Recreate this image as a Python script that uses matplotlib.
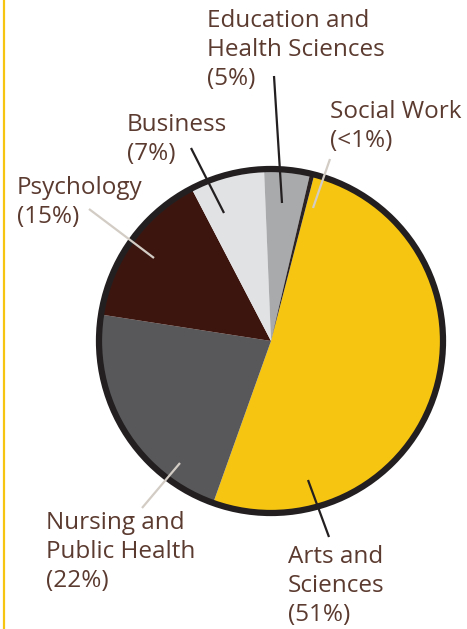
import matplotlib
matplotlib.use("Agg")
import matplotlib.pyplot as plt
from matplotlib.patches import Circle

# shares by school (%)
schools = ["Arts and\nSciences", "Nursing and\nPublic Health", "Psychology",
           "Business", "Education and\nHealth Sciences", "Social Work"]
pct_labels = ["(51%)", "(22%)", "(15%)", "(7%)", "(5%)", "(<1%)"]
shares = [51.4, 22.0, 14.9, 7.0, 4.3, 0.4]
colors = ["#f6c512", "#58585a", "#3c150f", "#e1e2e4", "#a9aaac", "#2a2223"]

# layout (image pixels, y down)
W, H = 467, 629
cx, cy, r = 271, 341, 172
label_xy = [(288, 545), (46, 511), (17, 176), (127, 113), (207, 9), (330, 100)]
leader = [((329, 537), (308, 480), "#231f20"),
          ((142, 508), (180, 463), "#d2ccc5"),
          ((89, 209), (154, 258), "#d2ccc5"),
          ((191, 148), (224, 213), "#231f20"),
          ((274, 76), (282, 203), "#231f20"),
          ((330, 159), (313, 208), "#d2ccc5")]

plt.rcParams['font.family'] = ['Open Sans', 'DejaVu Sans']
text_color = "#5b3a2f"

fig = plt.figure(figsize=(W / 100, H / 100), dpi=100)
ax = fig.add_axes([0, 0, 1, 1])

ax.pie(shares, colors=colors, center=(cx, H - cy), radius=r,
       startangle=75.4, counterclock=False, frame=True,
       wedgeprops=dict(linewidth=0))
ax.add_patch(Circle((cx, H - cy), r, fill=False, edgecolor="#231f20", linewidth=4.5))

for (x0, y0), (x1, y1), c in leader:
    ax.plot([x0, x1], [H - y0, H - y1], color=c, linewidth=1.6, solid_capstyle="butt")

for name, p, (x, y) in zip(schools, pct_labels, label_xy):
    ax.text(x, H - y, name + "\n" + p, ha="left", va="top", fontsize=17.5,
            color=text_color, linespacing=1.28)

# yellow rule on the left edge
ax.plot([4, 4], [0, H], color="#f6c512", linewidth=1.6)

ax.set_xlim(0, W)
ax.set_ylim(0, H)
ax.set_aspect("equal")
ax.axis("off")

fig.savefig("out.png", dpi=100)
